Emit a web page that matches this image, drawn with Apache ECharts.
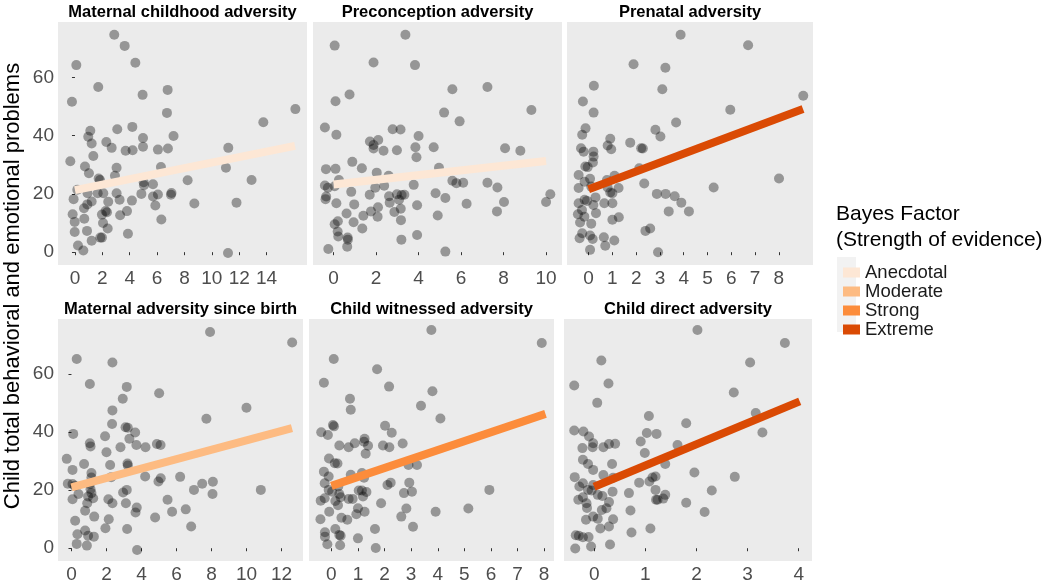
<!DOCTYPE html>
<html>
<head>
<meta charset="utf-8">
<script src="https://cdn.jsdelivr.net/npm/echarts@6/dist/echarts.min.js"></script>
<style>
  html, body { margin: 0; padding: 0; background: #fff; }
  #chart { width: 1050px; height: 585px; }
</style>
</head>
<body>
<div id="chart"></div>
<script>
// panel titles, in facet order
const panelTitles = [
  'Maternal childhood adversity',
  'Preconception adversity',
  'Prenatal adversity',
  'Maternal adversity since birth',
  'Child witnessed adversity',
  'Child direct adversity'
]

// tick labels
const xTicks = [
  [0, 2, 4, 6, 8, 10, 12, 14],
  [0, 2, 4, 6, 8, 10],
  [0, 1, 2, 3, 4, 5, 6, 7, 8],
  [0, 2, 4, 6, 8, 10, 12],
  [0, 1, 2, 3, 4, 5, 6, 7, 8],
  [0, 1, 2, 3, 4]
]
const yTicks = [0, 20, 40, 60]

// bayes factor categories
const levels = ['Anecdotal', 'Moderate', 'Strong', 'Extreme']
const panelEvidence = ['Anecdotal', 'Anecdotal', 'Extreme', 'Moderate', 'Strong', 'Extreme']

// fitted regression line end points [x, y]
const fitLines = [
  [[0, 21.3], [16.07, 36.5]],
  [[0, 23.2], [10, 31.3]],
  [[0, 21.6], [9.02, 49.1]],
  [[0, 21.0], [12.6, 41.4]],
  [[0, 21.5], [8.05, 46.3]],
  [[0, 21.2], [4.02, 50.6]]
]

// jittered points [adversity score, problems score]
const maternalChildhood = [
  [2.87, 74.6], [3.63, 70.8], [4.41, 65.0], [0.1, 64.2], [1.7, 56.7], [6.77, 55.7], [4.94, 54.0],
  [-0.22, 51.6], [16.1, 49.1], [6.72, 47.8], [13.76, 44.6], [4.19, 43.0], [3.09, 42.2], [1.12, 41.7],
  [7.2, 39.9], [0.97, 39.6], [4.97, 39.2], [2.29, 37.8], [1.22, 37.3], [2.68, 35.8], [4.97, 36.2],
  [11.2, 35.8], [4.21, 35.0], [3.7, 34.8], [6.06, 35.2], [6.79, 35.6], [1.34, 33.0], [-0.34, 31.2],
  [3.04, 29.0], [0.73, 29.4], [11.03, 29.0], [6.28, 29.2], [1.02, 27.1], [1.73, 25.3], [8.23, 24.7],
  [12.9, 24.8], [2.92, 26.2], [1.83, 24.8], [5.02, 24.0], [5.04, 23.0], [5.7, 23.3], [0.17, 21.4],
  [0.92, 20.2], [1.66, 20.2], [3.04, 20.2], [7.01, 19.7], [7.05, 20.3], [4.85, 20.0], [6.06, 19.8],
  [2.07, 20.2], [-0.1, 18.2], [3.26, 18.0], [4.16, 17.7], [5.7, 19.1], [2.43, 17.3], [1.22, 17.4],
  [8.72, 16.7], [11.18, -0.3], [11.8, 17.0], [0.9, 16.4], [5.87, 16.0], [-0.17, 13.0], [2.24, 14.1],
  [2.34, 13.7], [1.97, 12.9], [3.3, 12.7], [3.8, 14.1], [-0.02, 10.4], [0.68, 11.5], [6.31, 11.2],
  [2.05, 10.0], [0.66, 15.1], [0.88, 7.3], [-0.02, 6.9], [2.39, 8.1], [3.87, 6.3], [1.22, 3.9],
  [1.85, 5.0], [1.97, 5.0], [0.22, 2.3], [0.61, 0.6]
]

const preconception = [
  [3.38, 74.6], [0.05, 70.9], [1.88, 65.1], [3.83, 64.2], [5.59, 55.9], [7.24, 56.7], [0.75, 54.1],
  [0.09, 51.8], [9.31, 48.8], [5.2, 47.9], [5.93, 44.9], [-0.41, 42.8], [2.78, 42.2], [3.15, 42.1],
  [0.13, 40.3], [4.0, 39.9], [1.71, 38.0], [2.1, 38.5], [1.88, 36.8], [1.88, 35.6], [2.35, 34.8],
  [2.98, 35.0], [3.85, 36.0], [3.9, 32.6], [4.71, 36.0], [8.07, 35.7], [8.79, 34.8], [0.88, 31.0],
  [-0.36, 28.5], [0.09, 28.6], [1.33, 28.8], [4.96, 29.0], [2.03, 27.3], [2.59, 26.2], [0.25, 24.8],
  [-0.41, 22.9], [-0.27, 22.1], [0.05, 22.6], [-0.35, 19.1], [-0.38, 18.2], [0.13, 16.8], [0.83, 20.7],
  [1.7, 19.7], [1.96, 22.1], [2.38, 22.8], [2.61, 19.2], [2.64, 17.0], [2.98, 19.9], [3.2, 19.6],
  [3.33, 19.7], [3.08, 18.0], [3.77, 23.1], [5.59, 24.5], [5.78, 23.7], [6.1, 23.8], [7.24, 23.8],
  [7.71, 22.2], [4.8, 20.2], [5.26, 18.6], [10.2, 19.9], [10.0, 17.2], [8.02, 17.2], [6.26, 16.6],
  [3.93, 16.1], [0.97, 16.4], [2.09, 15.4], [3.16, 14.9], [2.86, 13.8], [1.76, 14.0], [1.4, 12.5],
  [0.61, 13.3], [2.07, 12.2], [4.9, 12.6], [7.69, 14.0], [3.17, 11.0], [0.94, 10.3], [0.2, 10.6],
  [0.05, 9.6], [1.35, 8.1], [0.19, 7.1], [0.22, 5.4], [0.66, 5.0], [0.67, 4.3], [3.93, 5.9],
  [3.19, 4.3], [0.64, 1.9], [-0.25, 1.1], [5.26, 0.2]
]

const prenatal = [
  [3.87, 74.6], [6.71, 71.0], [1.89, 64.5], [3.23, 63.3], [0.22, 57.1], [3.1, 55.9], [-0.24, 51.7],
  [9.03, 53.7], [0.21, 47.9], [5.96, 48.9], [3.68, 44.5], [-0.13, 42.5], [-0.27, 40.3], [2.81, 42.0],
  [3.02, 39.7], [0.91, 38.9], [-0.32, 35.7], [0.8, 36.6], [0.95, 35.3], [1.75, 37.6], [2.21, 35.7],
  [2.28, 35.6], [0.2, 34.5], [-0.21, 34.5], [0.21, 32.8], [0.18, 30.8], [-0.14, 29.4], [-0.04, 29.2],
  [-0.42, 26.5], [0.06, 25.2], [-0.17, 24.2], [0.77, 24.8], [1.09, 26.2], [2.13, 28.8], [-0.42, 22.0],
  [0.11, 22.5], [0.8, 22.2], [1.26, 22.0], [2.34, 23.6], [5.26, 22.2], [8.01, 25.3], [0.91, 20.5],
  [1.0, 20.2], [2.87, 20.0], [3.24, 20.0], [3.62, 19.2], [3.9, 17.0], [4.22, 14.0], [3.37, 14.0],
  [-0.17, 18.0], [-0.07, 17.6], [-0.42, 16.8], [0.29, 18.8], [0.2, 16.2], [0.31, 13.4], [0.66, 16.8],
  [1.0, 16.8], [-0.28, 14.5], [-0.45, 13.0], [-0.18, 12.2], [-0.36, 10.2], [0.11, 9.8], [1.0, 11.1],
  [1.27, 12.0], [-0.27, 6.5], [0.06, 5.7], [0.17, 4.5], [-0.38, 4.8], [0.64, 5.1], [1.08, 4.0],
  [0.7, 2.2], [0.06, 0.8], [2.39, 7.3], [2.59, 8.1], [2.92, 0.0]
]

const sinceBirth = [
  [7.92, 74.5], [12.61, 70.9], [0.3, 65.2], [2.34, 64.0], [1.05, 56.6], [3.16, 55.6], [5.01, 53.4],
  [2.93, 51.5], [2.34, 47.5], [10.0, 48.4], [7.71, 44.6], [2.32, 42.8], [0.1, 39.4], [3.09, 41.7],
  [3.22, 41.5], [3.64, 39.9], [1.92, 38.6], [3.31, 37.7], [1.05, 36.2], [1.09, 35.1], [3.71, 35.6],
  [4.23, 34.8], [4.88, 35.9], [5.09, 35.6], [2.8, 34.8], [2.0, 33.1], [-0.27, 30.8], [0.06, 27.0],
  [0.72, 29.0], [2.21, 28.7], [3.2, 29.2], [3.22, 28.5], [1.14, 25.9], [1.14, 24.4], [2.27, 24.5],
  [4.21, 24.7], [5.1, 24.1], [4.97, 23.0], [6.21, 24.6], [8.08, 22.9], [7.47, 22.2], [7.0, 20.1],
  [8.06, 18.7], [10.82, 20.1], [-0.21, 22.2], [0.06, 22.1], [0.19, 21.5], [0.06, 16.9], [0.4, 18.7],
  [1.05, 22.1], [1.09, 20.3], [1.14, 19.0], [0.95, 17.8], [1.24, 17.2], [0.78, 12.9], [0.9, 15.5],
  [2.95, 19.2], [3.16, 20.1], [2.11, 16.9], [2.34, 15.5], [3.11, 15.5], [3.66, 12.3], [3.73, 14.0],
  [5.49, 16.7], [5.75, 12.6], [6.53, 13.4], [4.78, 10.6], [6.84, 7.5], [0.21, 9.5], [2.13, 10.0],
  [1.94, 6.9], [3.18, 6.6], [0.78, 6.1], [1.3, 10.9], [0.34, 4.8], [0.95, 4.3], [1.28, 4.0],
  [0.3, 1.5], [0.88, 0.9], [3.75, -0.6]
]

const childWitnessed = [
  [3.76, 75.2], [7.91, 70.7], [0.09, 65.2], [1.72, 61.7], [-0.28, 57.0], [2.17, 55.7], [3.8, 54.1],
  [0.7, 51.5], [0.73, 47.7], [3.37, 49.1], [4.1, 44.7], [0.06, 42.5], [0.1, 42.0], [2.02, 42.2],
  [-0.38, 40.0], [-0.13, 39.0], [2.27, 39.8], [1.25, 37.7], [1.23, 36.7], [0.88, 36.2], [0.3, 35.4],
  [0.65, 34.8], [1.38, 35.3], [1.94, 35.4], [2.18, 34.8], [2.68, 36.1], [1.29, 32.6], [-0.09, 30.9],
  [0.13, 29.3], [0.23, 29.2], [2.9, 28.7], [3.22, 28.7], [-0.28, 26.4], [-0.1, 24.7], [0.73, 25.3],
  [1.15, 25.9], [1.23, 24.3], [-0.25, 22.4], [-0.1, 20.1], [0.26, 21.3], [0.03, 19.5], [0.3, 18.7],
  [2.11, 21.8], [2.23, 22.6], [2.93, 22.6], [3.03, 19.5], [2.73, 19.0], [1.03, 19.9], [1.15, 19.9],
  [1.32, 19.4], [1.19, 17.8], [5.94, 20.1], [-0.4, 16.4], [-0.25, 17.2], [0.15, 16.3], [0.35, 17.6],
  [0.65, 17.0], [0.8, 17.0], [1.87, 15.5], [0.25, 14.8], [1.0, 13.8], [1.25, 12.6], [0.94, 11.7],
  [-0.08, 12.6], [2.82, 13.7], [2.63, 10.9], [3.92, 12.6], [5.15, 13.7], [-0.41, 10.0], [0.38, 10.5],
  [0.6, 9.8], [0.15, 6.6], [0.3, 4.6], [-0.24, 5.5], [-0.24, 4.0], [0.35, 4.3], [1.64, 6.6],
  [3.07, 7.4], [1.0, 3.4], [-0.15, 1.4], [0.33, 1.0], [1.67, 0.1]
]

const childDirect = [
  [2.02, 75.2], [3.73, 70.7], [0.14, 64.7], [3.05, 64.0], [-0.39, 56.1], [0.28, 56.8], [2.73, 53.7],
  [0.06, 50.1], [3.16, 46.6], [1.07, 45.6], [1.8, 43.1], [-0.39, 40.6], [3.29, 39.9], [1.03, 39.7],
  [-0.21, 40.2], [1.22, 39.4], [-0.1, 38.5], [-0.02, 36.2], [0.91, 36.8], [-0.23, 34.5], [-0.03, 34.8],
  [0.18, 34.8], [0.29, 35.9], [0.41, 36.0], [1.63, 35.6], [0.99, 32.8], [-0.22, 30.5], [-0.12, 29.0],
  [-0.02, 27.0], [0.35, 29.0], [1.39, 29.0], [0.18, 25.2], [0.37, 24.3], [1.14, 24.4], [1.2, 24.7],
  [1.96, 26.1], [2.75, 24.6], [-0.38, 24.5], [-0.22, 22.4], [-0.29, 21.3], [-0.12, 20.1], [-0.02, 21.8],
  [-0.05, 19.9], [0.07, 18.4], [0.16, 18.0], [0.36, 19.5], [0.88, 22.6], [1.08, 23.0], [1.2, 20.1],
  [0.68, 19.0], [1.39, 18.4], [1.35, 17.1], [2.3, 19.9], [1.21, 16.7], [1.24, 16.7], [1.8, 15.7],
  [-0.31, 16.7], [-0.22, 17.6], [-0.15, 15.5], [0.29, 15.9], [0.24, 13.8], [0.15, 13.2], [-0.14, 13.9],
  [0.71, 13.0], [2.16, 12.5], [-0.16, 9.8], [-0.02, 10.9], [0.07, 10.2], [0.37, 10.0], [0.12, 6.8],
  [0.29, 7.5], [0.73, 5.4], [1.1, 6.8], [-0.36, 4.5], [-0.3, 4.3], [-0.22, 3.8], [-0.11, 3.9],
  [-0.37, -0.1], [-0.06, 0.6], [0.31, 1.3]
]

const panelPoints = [maternalChildhood, preconception, prenatal, sinceBirth, childWitnessed, childDirect]

// ---- layout & styles ----
const FONT = '"Liberation Sans", Arial, sans-serif'
const levelColors = {
  Anecdotal: '#fde7d5',
  Moderate: '#fdbb82',
  Strong: '#fc8c3b',
  Extreme: '#da4a04'
}
const panelBoxes = [
  { left: 58, top: 22, width: 249, height: 243 },
  { left: 313, top: 22, width: 249, height: 243 },
  { left: 567, top: 22, width: 246, height: 243 },
  { left: 58, top: 319, width: 245, height: 242 },
  { left: 309, top: 319, width: 245, height: 242 },
  { left: 564, top: 319, width: 248, height: 242 }
]
const xRanges = [[-1.24, 16.95], [-0.97, 10.75], [-0.91, 9.44], [-0.77, 13.23], [-0.84, 8.37], [-0.59, 4.26]]
const yRange = [-4.4, 79]

const chart = echarts.init(document.getElementById('chart'), null, { renderer: 'canvas' })

const grids = panelBoxes.map(b => ({
  left: b.left, top: b.top, width: b.width, height: b.height,
  show: true, backgroundColor: '#ebebeb', borderWidth: 0,
  containLabel: false, outerBoundsMode: 'none'
}))

const xAxes = panelBoxes.map((b, i) => ({
  gridIndex: i,
  type: 'value',
  min: xRanges[i][0],
  max: xRanges[i][1],
  axisLine: { show: false },
  splitLine: { show: false },
  axisTick: { show: true, length: 3, lineStyle: { color: '#333', width: 1 }, customValues: xTicks[i] },
  axisLabel: { customValues: xTicks[i], fontSize: 19, color: '#4d4d4d', margin: 4, fontFamily: FONT }
}))

const yAxes = panelBoxes.map((b, i) => {
  const showLab = i === 0 || i === 3
  return {
    gridIndex: i,
    type: 'value',
    min: yRange[0],
    max: yRange[1],
    axisLine: { show: false },
    splitLine: { show: false },
    axisTick: { show: showLab, length: 3, lineStyle: { color: '#333', width: 1 }, customValues: yTicks },
    axisLabel: { show: showLab, customValues: yTicks, fontSize: 19, color: '#4d4d4d', margin: 4, fontFamily: FONT }
  }
})

const series = []
panelPoints.forEach((pts, i) => {
  series.push({
    type: 'scatter',
    xAxisIndex: i,
    yAxisIndex: i,
    data: pts,
    symbolSize: 10,
    itemStyle: { color: 'rgba(0,0,0,0.45)' },
    silent: true,
    z: 2
  })
})
fitLines.forEach((seg, i) => {
  const lvl = panelEvidence[i]
  series.push({
    name: lvl,
    type: 'line',
    xAxisIndex: i,
    yAxisIndex: i,
    data: seg,
    symbol: 'none',
    lineStyle: { color: levelColors[lvl], width: 8, cap: 'butt' },
    itemStyle: { color: levelColors[lvl] },
    silent: true,
    z: 3
  })
})

const graphics = panelBoxes.map((b, i) => ({
  type: 'text',
  x: b.left + b.width / 2,
  y: b.top - 10,
  style: {
    text: panelTitles[i],
    fontSize: 16.5,
    fontWeight: 'bold',
    fontFamily: FONT,
    fill: '#000',
    align: 'center',
    verticalAlign: 'middle'
  }
}))
graphics.push({
  type: 'text',
  x: 13,
  y: 286,
  rotation: Math.PI / 2,
  style: {
    text: 'Child total behavioral and emotional problems',
    fontSize: 22,
    fontFamily: FONT,
    fill: '#000',
    align: 'center',
    verticalAlign: 'middle'
  }
})
graphics.push({
  type: 'text',
  x: 836,
  y: 227,
  style: {
    text: 'Bayes Factor\n(Strength of evidence)',
    fontSize: 21,
    lineHeight: 26,
    fontFamily: FONT,
    fill: '#000',
    align: 'left',
    verticalAlign: 'middle'
  }
})
graphics.push({
  type: 'rect',
  shape: { x: 837, y: 257, width: 19, height: 75 },
  style: { fill: '#f2f2f2' },
  z: -1
})

chart.setOption({
  animation: false,
  backgroundColor: '#fff',
  grid: grids,
  xAxis: xAxes,
  yAxis: yAxes,
  legend: {
    data: levels,
    orient: 'vertical',
    left: 838,
    top: 258,
    icon: 'rect',
    itemWidth: 17,
    itemHeight: 10,
    itemGap: 0,
    selectedMode: false,
    textStyle: { fontSize: 18.5, lineHeight: 18.3, color: '#1a1a1a', fontFamily: FONT }
  },
  graphic: graphics,
  series: series
})
</script>
</body>
</html>
